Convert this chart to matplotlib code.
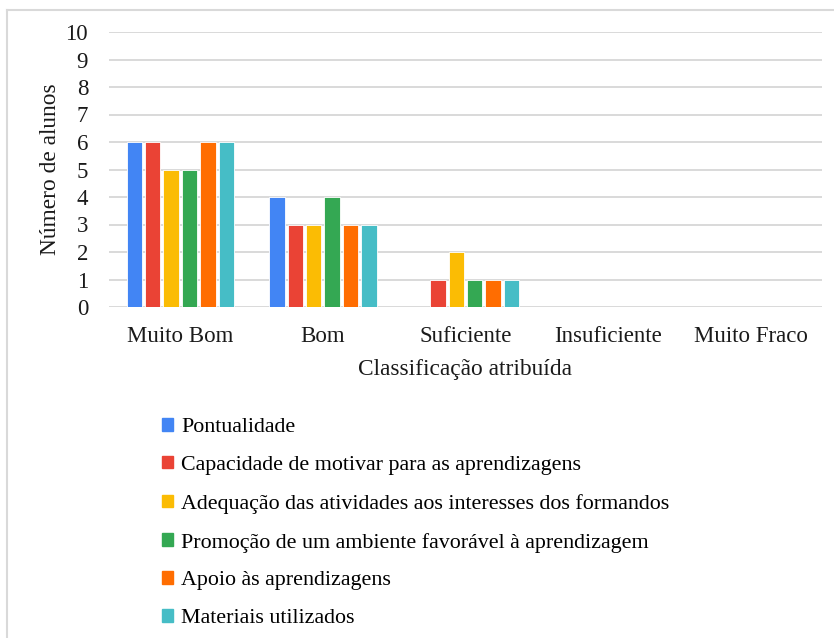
import matplotlib.pyplot as plt
import matplotlib.patches as mpatches
from matplotlib.lines import Line2D
import numpy as np

plt.rcParams.update({
    'font.family': 'Liberation Serif',
    'font.size': 16,
})

categories = ['Muito Bom', 'Bom', 'Suficiente', 'Insuficiente', 'Muito Fraco']
series_names = [
    'Pontualidade',
    'Capacidade de motivar para as aprendizagens',
    'Adequação das atividades aos interesses dos formandos',
    'Promoção de um ambiente favorável à aprendizagem',
    'Apoio às aprendizagens',
    'Materiais utilizados',
]
pontualidade = [6, 4, 0, 0, 0]
capacidade = [6, 3, 1, 0, 0]
adequacao = [5, 3, 2, 0, 0]
promocao = [5, 4, 1, 0, 0]
apoio = [6, 3, 1, 0, 0]
materiais = [6, 3, 1, 0, 0]
series_values = [pontualidade, capacidade, adequacao, promocao, apoio, materiais]

colors = ['#4285F4', '#EA4335', '#FBBC04', '#34A853', '#FF6D01', '#46BDC6']

W, H = 834, 638
fig = plt.figure(figsize=(W / 100, H / 100), dpi=100)
ax = fig.add_axes([109 / W, 1 - 307 / H, (822 - 109) / W, (307 - 32) / H])

x = np.arange(len(categories))
step = 0.129
bw = 0.107
for i, (name, vals, c) in enumerate(zip(series_names, series_values, colors)):
    ax.bar(x + (i - 2.5) * step, vals, width=bw, color=c, edgecolor='white',
           linewidth=0.6, label=name, zorder=3)

ax.set_xlim(-0.5, len(categories) - 0.5)
ax.set_ylim(0, 10)
ax.set_yticks(range(0, 11))
ax.set_xticks(x)
ax.set_xticklabels(categories)
ax.tick_params(length=0, colors='#1a1a1a', labelsize=16.5)
ax.tick_params(axis='x', pad=14)
ax.tick_params(axis='y', pad=15)
for s in ax.spines.values():
    s.set_visible(False)
ax.grid(axis='y', color='#D9D9D9', linewidth=1.4, zorder=0)
ax.set_axisbelow(True)

ax.set_ylabel('Número de alunos', fontsize=16.8, color='#1a1a1a', labelpad=3)
ax.set_xlabel('Classificação atribuída', fontsize=16.8, color='#1a1a1a', labelpad=8)

handles = [mpatches.Patch(color=c, label=n) for n, c in zip(series_names, colors)]
fig.legend(handles=handles, loc='upper left', bbox_to_anchor=(162 / W, 1 - 418 / H),
           frameon=False, fontsize=15.8, handlelength=0.5, handleheight=0.5,
           handletextpad=0.38, labelspacing=0.86, borderaxespad=0, borderpad=0)

# chart border (only top and left visible in the crop)
fig.add_artist(Line2D([7 / W, 1], [1 - 10 / H, 1 - 10 / H], color='#D9D9D9',
                      linewidth=1.5, transform=fig.transFigure))
fig.add_artist(Line2D([7 / W, 7 / W], [1 - 10 / H, 0], color='#D9D9D9',
                      linewidth=1.5, transform=fig.transFigure))

fig.savefig('out.png', dpi=100)
